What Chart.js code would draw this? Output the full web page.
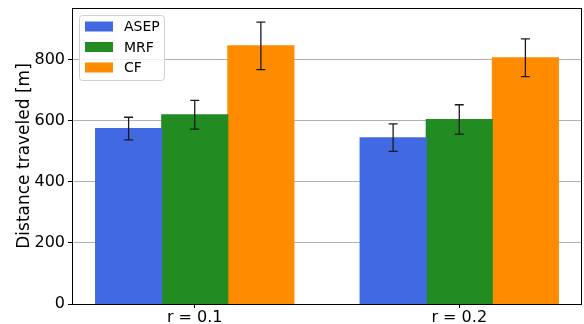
<!DOCTYPE html>
<html>
<head>
<meta charset="utf-8">
<script src="https://cdn.jsdelivr.net/npm/chart.js@4"></script>
<style>
  html, body { margin: 0; padding: 0; background: #fff; }
  #wrap { width: 584px; height: 324px; }
</style>
</head>
<body>
<div id="wrap"><canvas id="c"></canvas></div>
<script>
const categories = ['r = 0.1', 'r = 0.2'];
const seriesNames = ['ASEP', 'MRF', 'CF'];
const asepMean = [575, 545];
const asepErr = [37, 45];
const mrfMean = [620, 605];
const mrfErr = [47, 48];
const cfMean = [846, 807];
const cfErr = [78, 62];
const yTicks = [0, 200, 400, 600, 800];

const colors = ['#4169e1', '#228b22', '#ff8c00'];
const means = [asepMean, mrfMean, cfMean];
const errs = [asepErr, mrfErr, cfErr];
const FONT = 'DejaVu Sans';

let datasets = seriesNames.map((name, i) => ({
  label: name,
  data: means[i].map((v, j) => ({x: j, y: v})),
  errors: errs[i],
  backgroundColor: colors[i],
  borderWidth: 0,
  inflateAmount: 0.5,
  categoryPercentage: 0.75,
  barPercentage: 1.0,
}));

// error bars with caps
const errorBars = {
  id: 'errorBars',
  afterDatasetsDraw(chart) {
    let ctx = chart.ctx;
    let ys = chart.scales.y;
    ctx.save();
    ctx.strokeStyle = '#1a1a1a';
    ctx.lineWidth = 1.3;
    chart.data.datasets.forEach((ds, i) => {
      let meta = chart.getDatasetMeta(i);
      meta.data.forEach((bar, j) => {
        let m = ds.data[j].y, e = ds.errors[j];
        let top = ys.getPixelForValue(m + e);
        let bot = ys.getPixelForValue(m - e);
        ctx.beginPath();
        ctx.moveTo(bar.x, top); ctx.lineTo(bar.x, bot);
        ctx.moveTo(bar.x - 4.5, top); ctx.lineTo(bar.x + 4.5, top);
        ctx.moveTo(bar.x - 4.5, bot); ctx.lineTo(bar.x + 4.5, bot);
        ctx.stroke();
      });
    });
    ctx.restore();
  }
};

// frame + legend in the upper left corner
const frameLegend = {
  id: 'frameLegend',
  afterDraw(chart) {
    let ctx = chart.ctx;
    let a = chart.chartArea;
    ctx.save();
    ctx.strokeStyle = '#000';
    ctx.lineWidth = 1;
    ctx.strokeRect(a.left + 0.5, a.top + 0.5, a.right - a.left - 1, a.bottom - a.top);

    let lx = a.left + 7.5, ly = a.top + 7.5, lw = 85, lh = 65;
    ctx.fillStyle = 'rgba(255,255,255,0.8)';
    ctx.strokeStyle = '#d0d0d0';
    ctx.beginPath();
    ctx.roundRect(lx, ly, lw, lh, 3);
    ctx.fill();
    ctx.stroke();

    ctx.font = '14px ' + FONT;
    ctx.textBaseline = 'middle';
    chart.data.datasets.forEach((ds, i) => {
      let cy = ly + 11 + i * 20.5;
      ctx.fillStyle = ds.backgroundColor;
      ctx.fillRect(lx + 5.5, cy - 5, 28, 10);
      ctx.fillStyle = '#000';
      ctx.fillText(ds.label, lx + 44.5, cy + 1);
    });
    ctx.restore();
  }
};

new Chart(document.getElementById('c'), {
  type: 'bar',
  data: { datasets: datasets },
  options: {
    responsive: true,
    maintainAspectRatio: false,
    animation: false,
    layout: { padding: { top: 8, right: 2, left: 0, bottom: 0 } },
    plugins: { legend: { display: false }, tooltip: { enabled: false } },
    scales: {
      x: {
        type: 'linear',
        min: -0.464,
        max: 1.464,
        offset: false,
        afterBuildTicks: s => { s.ticks = categories.map((c, i) => ({value: i})); },
        afterFit: s => { s.height = 20; s.paddingLeft = 0; s.paddingRight = 0; },
        ticks: {
          callback: (v, i) => categories[i],
          font: { family: FONT, size: 16 },
          color: '#000',
          padding: 0,
          maxRotation: 0,
        },
        grid: { display: true, offset: false, drawOnChartArea: false, tickLength: 4, tickColor: '#000' },
        border: { display: false },
      },
      y: {
        min: 0,
        max: 970,
        afterBuildTicks: s => { s.ticks = yTicks.map(v => ({value: v})); },
        afterFit: s => { s.width = 72; s.paddingTop = 0; s.paddingBottom = 0; },
        ticks: {
          font: { family: FONT, size: 16 },
          color: '#000',
          padding: 3,
        },
        grid: { color: '#b0b0b0', lineWidth: 1, tickLength: 4, tickColor: '#000' },
        border: { display: false },
        title: {
          display: true,
          text: 'Distance traveled [m]',
          font: { family: FONT, size: 17 },
          color: '#000',
          padding: { top: 14, bottom: 0 },
        },
      },
    },
  },
  plugins: [errorBars, frameLegend],
});
</script>
</body>
</html>
